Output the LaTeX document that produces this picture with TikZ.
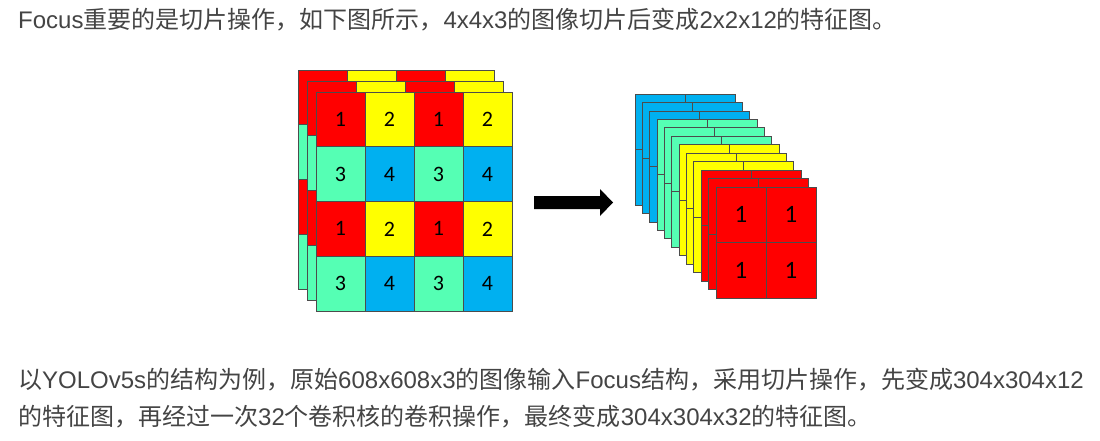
\documentclass[tikz,border=0pt]{standalone}
\usepackage{fontspec}
\setmainfont{Noto Sans CJK SC}
\newfontfamily\lat{Liberation Sans}
\newfontfamily\cellfont{Carlito}
\definecolor{c1}{HTML}{FF0000}
\definecolor{c2}{HTML}{FFFF00}
\definecolor{c3}{HTML}{55FFB4}
\definecolor{c4}{HTML}{00B0F0}
\definecolor{txt}{HTML}{444444}
\begin{document}
\begin{tikzpicture}[x=1pt,y=-1pt,
  cell/.style={draw=black!70, line width=0.8pt, inner sep=0pt, outer sep=0pt, anchor=north west},
  lcell/.style={cell, minimum width=49pt, minimum height=54.75pt, font=\cellfont\fontsize{22}{22}\selectfont},
  rcell/.style={cell, minimum width=50pt, minimum height=55.5pt, font=\cellfont\fontsize{25}{25}\selectfont},
  para/.style={text=txt, anchor=base west, inner sep=0pt, font=\fontsize{24}{24}\selectfont}]
\useasboundingbox[fill=white] (0,0) rectangle (1100,440);
% left stack: 4x4x3
\foreach \k in {0,1,2} {
  \foreach \r in {0,...,3} {
    \foreach \c in {0,...,3} {
      \pgfmathtruncatemacro\idx{2*mod(\r,2)+mod(\c,2)+1}
      \node[lcell, fill=c\idx] (L\k-\r-\c) at ({298+9*\k+49*\c},{70+11*\k+54.75*\r}) {\ifnum\k=2 \idx\fi};
    }
  }
}
% arrow
\coordinate (a1) at (534,196);
\coordinate (a2) at (600,196);
\coordinate (a3) at (600,189);
\coordinate (a4) at (613,202.5);
\coordinate (a5) at (600,216);
\coordinate (a6) at (600,209);
\coordinate (a7) at (534,209);
\fill[black] (a1) -- (a2) -- (a3) -- (a4) -- (a5) -- (a6) -- (a7) -- cycle;
% right stack: 2x2x12
\foreach \k in {0,...,11} {
  \pgfmathtruncatemacro\ci{4-int(\k/3)}
  \foreach \r in {0,1} {
    \foreach \c in {0,1} {
      \node[rcell, fill=c\ci] (R\k-\r-\c) at ({635+7.36*\k+50*\c},{94+8.45*\k+55.5*\r}) {\ifnum\k=11 1\fi};
    }
  }
}
% text
\node[para] (t1) at (18,28.5) {{\lat Focus}重要的是切片操作，如下图所示，{\lat 4x4x3}的图像切片后变成{\lat 2x2x12}的特征图。};
\node[para] (t2) at (18,388) {以{\lat YOLOv5s}的结构为例，原始{\lat 608x608x3}的图像输入{\lat Focus}结构，采用切片操作，先变成{\lat 304x304x12}};
\node[para] (t3) at (18,425) {的特征图，再经过一次{\lat 32}个卷积核的卷积操作，最终变成{\lat 304x304x32}的特征图。};
\end{tikzpicture}
\end{document}
